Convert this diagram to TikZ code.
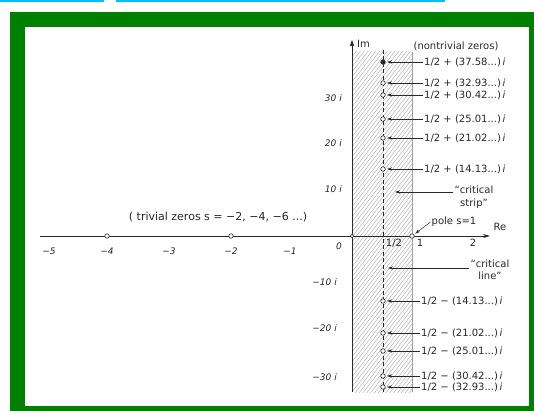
\documentclass[tikz,border=0pt]{standalone}
\usepackage{fontspec}
\setmainfont{DejaVu Sans}
\usetikzlibrary{arrows.meta}
\definecolor{framegreen}{RGB}{0,128,0}
\definecolor{topcyan}{RGB}{0,191,255}
\definecolor{ink}{RGB}{40,40,40}
\begin{document}
\begin{tikzpicture}[x=1pt,y=-1pt,
  lbl/.style={font=\fontsize{10}{12.5}\selectfont, text=ink, inner sep=1pt},
  tick/.style={font=\fontsize{9}{10}\selectfont\itshape, text=ink, inner sep=1pt},
  zero/.style={circle, draw=ink, fill=white, line width=0.6pt, inner sep=0pt, minimum size=4.5pt},
  fzero/.style={zero, fill=ink},
  axisline/.style={draw=ink, line width=0.7pt},
  pointer/.style={draw=ink, line width=0.5pt, -{Stealth[length=5pt,width=3.2pt]}, shorten >=1.5pt},
  hatchline/.style={draw=gray!70, line width=0.4pt}
]
\useasboundingbox (0,0) rectangle (534,411);
\fill[white] (0,0) rectangle (534,411);
\fill[topcyan] (0,0) rectangle (104,2.5);
\fill[topcyan] (116,0) rectangle (445,2.5);
\fill[framegreen] (10,12) rectangle (534,411);
\fill[white] (25,27) rectangle (529,406);

% hatched critical strip
\begin{scope}
  \clip (352,52) rectangle (412,392);
  \foreach \k in {52,57,...,490} \draw[hatchline] (352,\k) -- (412,\k-78);
\end{scope}
\draw[gray!75, line width=0.5pt] (412,52) -- (412,392);

% critical line
\draw[ink, line width=0.9pt, dash pattern=on 4pt off 2.5pt] (383,50) -- (383,392);

% axes
\coordinate (reL) at (40,236);
\coordinate (reR) at (490,236);
\coordinate (imB) at (352,392);
\coordinate (imT) at (352,40);
\draw[axisline, -{Stealth[length=7pt,width=4pt]}] (reL) -- (reR);
\draw[axisline, -{Triangle[length=6pt,width=4pt]}] (imB) -- (imT);
\node[lbl, anchor=west] (imlbl) at (356,44) {Im};
\node[lbl] (relbl) at (500,227) {Re};

% real tick labels
\node[tick] (rm5) at (49,251) {−5};
\node[tick] (rm4) at (107,251) {−4};
\node[tick] (rm3) at (169,251) {−3};
\node[tick] (rm2) at (231,251) {−2};
\node[tick] (rm1) at (290,251) {−1};
\node[tick] (r0) at (339,246) {0};
\node[lbl] (rhalf) at (394,243) {1/2};
\node[lbl] (r1) at (420,243) {1};
\node[lbl] (r2) at (473,243) {2};

% imaginary tick labels
\node[tick, anchor=east] (ip30) at (343,98) {30 i};
\node[tick, anchor=east] (ip20) at (343,143) {20 i};
\node[tick, anchor=east] (ip10) at (343,189) {10 i};
\node[tick, anchor=east] (im10) at (338,282) {−10 i};
\node[tick, anchor=east] (im20) at (338,328) {−20 i};
\node[tick, anchor=east] (im30) at (338,377) {−30 i};

% origin, trivial zeros, pole
\node[zero, minimum size=3.5pt] (orig) at (352,236) {};
\node[zero] (t4) at (107,236) {};
\node[zero] (t2) at (231,236) {};
\node[lbl, font=\fontsize{11}{13}\selectfont] (tz) at (218,217) {( trivial zeros  s = −2, −4, −6 ...)};
\node[zero] (pole) at (412,236) {};
\node[lbl] (poletxt) at (454,222) {pole s=1};
\draw[pointer] (poletxt.west) -- (pole);

% nontrivial zeros
\node[lbl] (ntz) at (456,46) {(nontrivial zeros)};
\foreach \v/\y/\n/\s in {37.58/62/a/fzero, 32.93/83/b/zero, 30.42/95/c/zero, 25.01/119/d/zero, 21.02/138/e/zero, 14.13/169/f/zero} {
  \node[\s] (zp\n) at (383,\y) {};
  \node[lbl, anchor=west] (lp\n) at (423,\y) {1/2 + (\v...)\,\textit{i}};
  \draw[pointer] (lp\n.west) -- (zp\n);
}
\foreach \v/\y/\n in {14.13/301/a, 21.02/333/b, 25.01/351/c, 30.42/376/d, 32.93/387/e} {
  \node[zero] (zm\n) at (383,\y) {};
  \node[lbl, anchor=west] (lm\n) at (420,\y) {1/2 − (\v...)\,\textit{i}};
  \draw[pointer] (lm\n.west) -- (zm\n);
}

% critical strip / line pointers
\node[lbl, align=center] (cstrip) at (474,197) {“critical\\strip”};
\coordinate (csTip) at (395,192);
\draw[pointer, shorten >=0pt] (cstrip.west |- csTip) -- (csTip);
\node[lbl, align=center] (cline) at (490,270) {“critical\\line”};
\coordinate (clTip) at (388,268);
\draw[pointer, shorten >=0pt] (cline.west |- clTip) -- (clTip);
\end{tikzpicture}
\end{document}
